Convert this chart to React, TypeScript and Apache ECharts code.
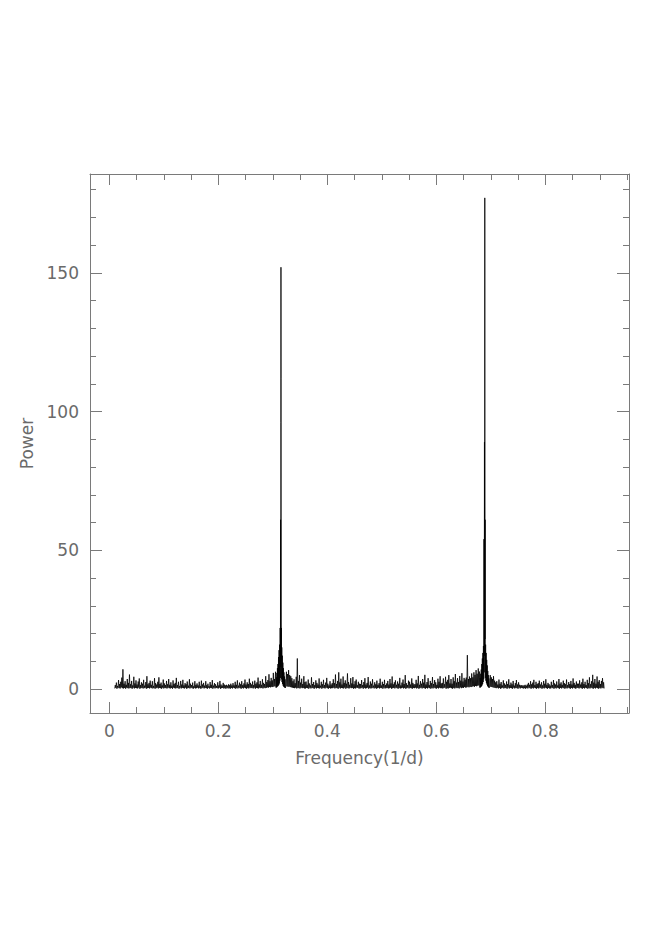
import React, { useEffect, useRef } from "react";
import * as echarts from "echarts";

// Baseline periodogram, one row per 0.05 of frequency, sampled every 0.001 (1/d)
const rowStart = 0.01;
const rowWidth = 0.05;
const sampleStep = 0.001;

const row01 = [
  .2, 1.4, .4, 2.3, .1, 1.1, .5, 3.2, .3, 1.8,
  .2, 2.6, .6, 4.1, .3, 7.1, .2, 1.9, .4, 2.8,
  .1, 1.5, .5, 3.6, .3, 2.2, .2, 5.2, .4, 1.7,
  .3, 2.9, .1, 1.3, .5, 4.4, .2, 2.0, .4, 3.1,
  .3, 1.6, .2, 2.7, .5, 3.8, .1, 1.4, .3, 2.4,
];
const row02 = [
  .4, 1.9, .2, 3.3, .3, 1.2, .5, 2.5, .1, 4.6,
  .3, 1.7, .4, 2.2, .2, 3.0, .5, 1.5, .3, 2.8,
  .2, 1.1, .4, 3.9, .1, 2.1, .3, 1.6, .5, 2.6,
  .2, 4.2, .4, 1.8, .3, 2.3, .1, 1.3, .5, 3.4,
  .2, 2.0, .4, 1.4, .3, 2.9, .2, 1.7, .5, 3.6,
];
const row03 = [
  .3, 1.5, .2, 2.4, .4, 1.2, .1, 3.1, .5, 1.8,
  .3, 2.2, .2, 4.0, .4, 1.4, .3, 2.6, .1, 1.1,
  .5, 2.9, .2, 1.6, .4, 3.3, .3, 1.3, .2, 2.1,
  .5, 1.7, .1, 2.7, .3, 1.2, .4, 3.5, .2, 1.9,
  .5, 1.4, .3, 2.3, .1, 1.0, .4, 2.8, .2, 1.5,
];
const row04 = [
  .3, 2.0, .5, 1.3, .2, 2.6, .4, 1.1, .1, 3.0,
  .3, 1.6, .5, 2.2, .2, 1.2, .4, 2.8, .3, 1.4,
  .1, 1.9, .5, 1.0, .2, 2.5, .4, 1.5, .3, 3.2,
  .1, 1.2, .5, 2.1, .2, 1.7, .4, 1.1, .3, 2.4,
  .2, 1.3, .5, 2.9, .1, 1.6, .3, 1.2, .4, 2.2,
];
const row05 = [
  .2, 1.6, .3, 1.3, .1, 1.5, .4, 1.2, .2, 1.7,
  .3, 1.4, .1, 1.9, .4, 1.3, .2, 2.1, .5, 1.3,
  .3, 2.6, .1, 1.5, .4, 3.1, .2, 1.2, .5, 2.3,
  .3, 1.7, .1, 2.8, .4, 1.4, .2, 2.0, .5, 3.4,
  .3, 1.6, .1, 2.4, .4, 1.8, .2, 3.7, .5, 2.2,
];
const row06 = [
  .3, 1.6, .4, 2.7, .2, 1.4, .5, 3.0, .1, 1.9,
  .4, 2.4, .3, 4.1, .2, 1.7, .5, 2.9, .3, 1.5,
  .4, 3.5, .2, 2.2, .5, 1.8, .3, 4.6, .4, 2.5,
  .6, 3.2, .5, 5.3, .7, 2.8, .6, 4.0, .8, 3.1,
  .7, 5.8, .9, 3.6, 1.0, 6.2, 1.1, 4.4, 1.3, 7.0,
];
const row07 = [
  2.0, 6.0, 2.0, 7.0, 3.0, 8.0, 4.0, 9.0, 3.0, 7.0,
  2.0, 6.0, 1.0, 5.0, .9, 6.2, 1.0, 5.4, .8, 6.8,
  .9, 5.0, .7, 4.6, .6, 3.9, .5, 2.8, .4, 3.5,
  .3, 2.1, .5, 4.4, .2, 11.0, .4, 2.9, .3, 5.0,
  .2, 2.3, .5, 3.7, .3, 1.8, .4, 4.6, .2, 2.5,
];
const row08 = [
  .2, 2.7, .4, 1.5, .3, 3.4, .1, 2.0, .5, 1.3,
  .2, 4.2, .4, 1.8, .3, 2.5, .1, 1.4, .5, 3.1,
  .2, 2.2, .4, 1.6, .3, 3.8, .2, 1.2, .5, 2.6,
  .1, 1.7, .4, 3.3, .3, 1.4, .2, 2.3, .5, 4.0,
  .3, 1.9, .1, 1.3, .4, 2.8, .2, 1.6, .3, 2.1,
];
const row09 = [
  .3, 3.5, .5, 2.1, .2, 5.2, .4, 1.8, .3, 2.9,
  .1, 6.0, .5, 2.4, .2, 3.7, .4, 1.6, .3, 4.5,
  .2, 2.2, .5, 3.1, .1, 1.9, .4, 5.6, .3, 2.5,
  .2, 1.5, .5, 3.9, .3, 2.0, .4, 4.3, .1, 1.7,
  .3, 2.8, .2, 3.4, .5, 1.4, .4, 2.6, .2, 1.9,
];
const row10 = [
  .2, 1.8, .3, 3.2, .5, 1.4, .1, 2.5, .4, 3.9,
  .2, 1.6, .3, 2.2, .5, 4.3, .1, 1.3, .4, 2.7,
  .2, 1.9, .3, 3.5, .5, 1.2, .2, 2.4, .4, 1.7,
  .1, 3.0, .3, 1.5, .5, 2.1, .2, 3.7, .4, 1.3,
  .3, 2.6, .1, 1.8, .5, 3.3, .2, 1.4, .3, 2.0,
];
const row11 = [
  .4, 2.9, .2, 1.6, .3, 3.6, .5, 2.0, .1, 4.5,
  .3, 1.7, .4, 2.4, .2, 3.1, .5, 1.5, .3, 2.7,
  .1, 1.9, .4, 4.0, .2, 1.3, .3, 2.3, .5, 3.4,
  .2, 1.8, .4, 5.0, .1, 2.1, .3, 1.4, .5, 3.0,
  .2, 2.6, .4, 1.6, .3, 3.8, .1, 2.2, .4, 1.7,
];
const row12 = [
  .3, 1.7, .5, 3.3, .2, 2.0, .4, 4.7, .1, 1.5,
  .3, 2.8, .5, 1.9, .2, 3.6, .4, 2.3, .3, 5.1,
  .1, 1.6, .4, 2.5, .2, 3.9, .5, 1.4, .3, 2.9,
  .1, 2.1, .4, 4.3, .2, 1.8, .5, 3.2, .3, 2.4,
  .1, 1.5, .4, 3.7, .2, 2.6, .5, 4.6, .3, 2.0,
];
const row13 = [
  .3, 2.2, .2, 3.8, .4, 1.7, .5, 4.4, .1, 2.6,
  .3, 3.3, .2, 5.0, .4, 2.0, .5, 3.6, .3, 1.9,
  .1, 4.2, .4, 2.8, .2, 5.4, .5, 2.3, .3, 3.9,
  .4, 2.5, .2, 4.7, .6, 3.0, .3, 5.7, .5, 2.7,
  .4, 4.0, .7, 3.4, .5, 4.1, .6, 12.2, .8, 3.6,
];
const row14 = [
  .6, 4.5, .8, 3.9, .7, 5.6, .9, 4.2, 1.0, 6.0,
  .8, 5.1, 1.1, 6.8, 1.0, 5.5, 1.2, 7.4, 1.3, 6.3,
  2.0, 8.0, 3.0, 9.0, 3.0, 9.0, 3.0, 9.0, 3.0, 9.0,
  3.0, 9.0, 3.0, 9.0, 3.0, 9.0, 3.0, 8.0, 1.0, 5.0,
  .8, 4.2, .7, 3.6, .6, 4.6, .5, 3.0, .4, 2.4,
];
const row15 = [
  .3, 2.8, .5, 1.6, .2, 3.4, .4, 1.9, .1, 2.5,
  .3, 1.3, .5, 3.1, .2, 2.0, .4, 1.5, .3, 2.7,
  .1, 1.8, .5, 3.5, .2, 1.4, .4, 2.3, .3, 1.7,
  .1, 2.9, .5, 1.2, .2, 2.1, .4, 3.2, .3, 1.6,
  .1, 2.4, .5, 1.5, .2, 1.3, .4, 1.4, .3, 1.2,
];
const row16 = [
  .2, 1.3, .3, 1.5, .1, 1.2, .4, 1.6, .2, 2.2,
  .5, 1.5, .3, 2.8, .1, 1.7, .4, 2.3, .2, 3.3,
  .5, 1.4, .3, 2.6, .1, 1.8, .4, 2.1, .2, 3.0,
  .5, 1.6, .3, 2.4, .1, 1.3, .4, 2.9, .2, 1.9,
  .5, 3.5, .3, 1.5, .1, 2.2, .4, 1.7, .2, 1.2,
];
const row17 = [
  .2, 2.6, .5, 1.4, .3, 3.2, .1, 2.0, .4, 1.6,
  .2, 2.7, .5, 1.3, .3, 3.6, .1, 1.9, .4, 2.4,
  .2, 1.5, .5, 3.0, .3, 2.1, .1, 1.7, .4, 3.4,
  .2, 1.4, .5, 2.5, .3, 1.8, .1, 2.9, .4, 1.6,
  .2, 3.8, .5, 2.2, .3, 1.5, .1, 2.7, .4, 1.9,
];
const row18 = [
  .4, 1.9, .2, 3.1, .5, 1.6, .3, 2.4, .1, 3.7,
  .4, 1.8, .2, 2.6, .5, 1.4, .3, 3.3, .1, 2.1,
  .4, 4.2, .2, 1.7, .5, 2.8, .3, 5.1, .1, 2.3,
  .4, 3.6, .2, 1.9, .5, 4.5, .3, 2.6, .1, 3.2,
  .4, 1.8, .2, 2.9, .5, 3.9, .3, 2.4, .2, .3,
];
const baseRows = [
  row01, row02, row03, row04, row05, row06, row07, row08, row09,
  row10, row11, row12, row13, row14, row15, row16, row17, row18,
];

// First peak (fine sampling)
const peak1Freq: number[] = [
  0.306, 0.3065, 0.307, 0.3075, 0.308, 0.3085, 0.309, 0.3095, 0.31, 0.3105, 0.311, 0.3115, 0.312,
  0.3125, 0.313, 0.3135, 0.314, 0.3143, 0.3146, 0.3148, 0.315, 0.3152, 0.3155, 0.3158, 0.3162,
  0.3165, 0.317, 0.3175, 0.318, 0.3185, 0.319, 0.3195, 0.32, 0.3205, 0.321, 0.3215, 0.322, 0.3225,
  0.323,
];
const peak1Power: number[] = [
  0.5, 4.2, 0.6, 5.8, 0.8, 7.5, 1.0, 9.0, 1.2, 11.5, 1.5, 14.0, 2.0,
  16.0, 3.0, 22.0, 4.0, 61.0, 8.0, 96.0, 152.0, 112.0, 10.0, 22.0, 3.5,
  15.0, 2.5, 12.0, 1.8, 9.5, 1.2, 7.5, 0.9, 6.0, 0.7, 4.5, 0.5, 3.5,
  0.4,
];

// Second peak (fine sampling)
const peak2Freq: number[] = [
  0.68, 0.6805, 0.681, 0.6815, 0.682, 0.6825, 0.683, 0.6835, 0.684, 0.6845, 0.685, 0.6855, 0.686,
  0.6865, 0.687, 0.6875, 0.688, 0.6884, 0.6887, 0.689, 0.6893, 0.6896, 0.69, 0.6905, 0.691, 0.6915,
  0.692, 0.6925, 0.693, 0.6935, 0.694, 0.6945, 0.695, 0.6955, 0.696, 0.6965, 0.697,
];
const peak2Power: number[] = [
  0.5, 4.0, 0.6, 5.5, 0.8, 7.0, 1.0, 9.0, 1.3, 11.0, 1.8, 13.0, 2.5,
  15.5, 3.5, 54.0, 6.0, 89.0, 12.0, 177.0, 18.0, 61.0, 4.0, 16.0, 3.0, 13.0,
  2.2, 10.5, 1.6, 8.5, 1.1, 6.5, 0.8, 5.0, 0.6, 3.8, 0.4,
];

const xMajorTicks = [0, 0.2, 0.4, 0.6, 0.8];
const xMinorTicks = [0.05, 0.1, 0.15, 0.25, 0.3, 0.35, 0.45, 0.5, 0.55, 0.65, 0.7, 0.75, 0.85, 0.9, 0.95];
const yMajorTicks = [0, 50, 100, 150];
const yMinorTicks = [10, 20, 30, 40, 60, 70, 80, 90, 110, 120, 130, 140, 160, 170, 180];

const X_MIN = -0.0354;
const X_MAX = 0.9536;
const Y_MIN = -8.65;
const Y_MAX = 185.6;

const FRAME = "#7a7a7a";
const TEXT = "#6a6a6a";
const FONT = "DejaVu Sans";

function buildData(): number[][] {
  const pts: number[][] = [];
  const p1a = peak1Freq[0], p1b = peak1Freq[peak1Freq.length - 1];
  const p2a = peak2Freq[0], p2b = peak2Freq[peak2Freq.length - 1];
  baseRows.forEach((row, r) => {
    row.forEach((p, i) => {
      const f = +(rowStart + r * rowWidth + i * sampleStep).toFixed(5);
      if ((f >= p1a && f <= p1b) || (f >= p2a && f <= p2b)) return;
      pts.push([f, p]);
    });
  });
  peak1Freq.forEach((f, i) => pts.push([f, peak1Power[i]]));
  peak2Freq.forEach((f, i) => pts.push([f, peak2Power[i]]));
  pts.sort((a, b) => a[0] - b[0]);
  return pts;
}

function xAxisDef(position: "bottom" | "top", major: boolean, showLine: boolean, withLabels: boolean) {
  return {
    type: "value" as const,
    position,
    min: X_MIN,
    max: X_MAX,
    axisLine: { show: showLine, onZero: false, lineStyle: { color: FRAME, width: 1 } },
    axisTick: {
      show: true,
      inside: true,
      length: major ? 11 : 6,
      customValues: major ? xMajorTicks : xMinorTicks,
      lineStyle: { color: FRAME, width: 1 },
    },
    axisLabel: withLabels
      ? {
          show: true,
          customValues: xMajorTicks,
          formatter: (v: number) => (v === 0 ? "0" : String(v)),
          color: TEXT,
          fontFamily: FONT,
          fontSize: 17,
          margin: 9,
        }
      : { show: false },
    splitLine: { show: false },
    minorTick: { show: false },
    name: withLabels ? "Frequency(1/d)" : "",
    nameLocation: "middle" as const,
    nameGap: 36,
    nameTextStyle: { color: TEXT, fontFamily: FONT, fontSize: 17 },
  };
}

function yAxisDef(position: "left" | "right", major: boolean, showLine: boolean, withLabels: boolean) {
  return {
    type: "value" as const,
    position,
    min: Y_MIN,
    max: Y_MAX,
    axisLine: { show: showLine, onZero: false, lineStyle: { color: FRAME, width: 1 } },
    axisTick: {
      show: true,
      inside: true,
      length: major ? 12 : 6,
      customValues: major ? yMajorTicks : yMinorTicks,
      lineStyle: { color: FRAME, width: 1 },
    },
    axisLabel: withLabels
      ? {
          show: true,
          customValues: yMajorTicks,
          color: TEXT,
          fontFamily: FONT,
          fontSize: 17,
          margin: 11,
        }
      : { show: false },
    splitLine: { show: false },
    minorTick: { show: false },
    name: withLabels ? "Power" : "",
    nameLocation: "middle" as const,
    nameGap: 45,
    nameRotate: 90,
    nameTextStyle: { color: TEXT, fontFamily: FONT, fontSize: 17 },
  };
}

export default function App() {
  const ref = useRef<HTMLDivElement>(null);
  useEffect(() => {
    if (!ref.current) return;
    const chart = echarts.init(ref.current, undefined, { renderer: "svg" });
    chart.setOption({
      animation: false,
      backgroundColor: "#ffffff",
      grid: { left: 90, right: 38, top: 174, bottom: 231, containLabel: false },
      xAxis: [
        xAxisDef("bottom", true, true, true),
        xAxisDef("bottom", false, false, false),
        xAxisDef("top", true, true, false),
        xAxisDef("top", false, false, false),
      ],
      yAxis: [
        yAxisDef("left", true, true, true),
        yAxisDef("left", false, false, false),
        yAxisDef("right", true, true, false),
        yAxisDef("right", false, false, false),
      ],
      series: [
        {
          type: "line",
          xAxisIndex: 0,
          yAxisIndex: 0,
          data: buildData(),
          showSymbol: false,
          symbol: "none",
          lineStyle: { color: "#000000", width: 0.8 },
          silent: true,
        },
      ],
    });
    return () => chart.dispose();
  }, []);
  return (
    <div
      ref={ref}
      style={{ position: "fixed", left: 0, top: 0, width: 667, height: 944, background: "#fff" }}
    />
  );
}
